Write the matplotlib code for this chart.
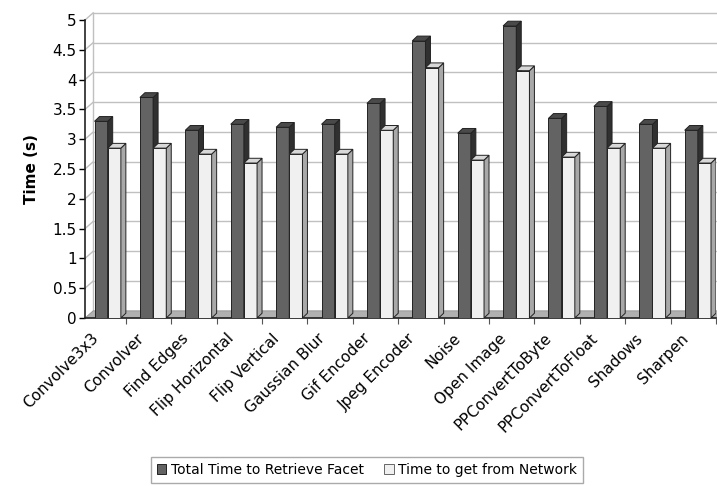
import matplotlib
matplotlib.use('Agg')
import matplotlib.pyplot as plt
from matplotlib.patches import Polygon, Patch
from matplotlib.transforms import ScaledTranslation

# data
categories = ['Convolve3x3', 'Convolver', 'Find Edges', 'Flip Horizontal',
              'Flip Vertical', 'Gaussian Blur', 'Gif Encoder', 'Jpeg Encoder',
              'Noise', 'Open Image', 'PPConvertToByte', 'PPConvertToFloat',
              'Shadows', 'Sharpen']
total_time = [3.3, 3.7, 3.15, 3.25, 3.2, 3.25, 3.6, 4.65,
              3.1, 4.9, 3.35, 3.55, 3.25, 3.15]
network_time = [2.85, 2.85, 2.75, 2.6, 2.75, 2.75, 3.15, 4.2,
                2.65, 4.15, 2.7, 2.85, 2.85, 2.6]
series_names = ['Total Time to Retrieve Facet', 'Time to get from Network']
yticks = [0, 0.5, 1, 1.5, 2, 2.5, 3, 3.5, 4, 4.5, 5]
ytick_labels = ['0', '0.5', '1', '1.5', '2', '2.5', '3', '3.5', '4', '4.5', '5']

plt.rcParams['font.family'] = ['DejaVu Sans']

fig = plt.figure(figsize=(7.17, 4.86), dpi=100)
ax = fig.add_axes([85/717, 168/486, 631/717, 298/486])

x0, x1 = 0.1, 14.0
ax.set_xlim(x0, x1)
ax.set_ylim(0, 5)

# 3D look: wall depth and bar depth in data units
wdx, wdy = 0.18, 0.12
bdx, bdy = 0.11, 0.08
w = 0.29

# floor
ax.add_patch(Polygon([(x0, 0), (x1 + 0.05, 0), (x1 + 0.05 + wdx, wdy), (x0 + wdx, wdy)],
                     closed=True, facecolor='#b0b0b0', edgecolor='#909090',
                     lw=0.6, zorder=1, clip_on=False))
# back wall gridlines
for y in yticks[1:]:
    ax.plot([x0 + wdx, x1 + 0.1], [y + wdy, y + wdy], color='#c0c0c0', lw=1,
            zorder=0.5, clip_on=False)
    ax.plot([x0, x0 + wdx], [y, y + wdy], color='#c0c0c0', lw=1,
            zorder=0.5, clip_on=False)
ax.plot([x0 + wdx, x0 + wdx], [wdy, 5 + wdy], color='#c0c0c0', lw=1,
        zorder=0.5, clip_on=False)


def bar3d(xc, v, front, side, top, z):
    ax.bar(xc, v, width=w, color=front, edgecolor='#222222', lw=0.7, zorder=z)
    r = xc + w / 2
    l = xc - w / 2
    ax.add_patch(Polygon([(r, 0), (r + bdx, bdy), (r + bdx, v + bdy), (r, v)],
                         closed=True, facecolor=side, edgecolor='#222222',
                         lw=0.7, zorder=z))
    ax.add_patch(Polygon([(l, v), (r, v), (r + bdx, v + bdy), (l + bdx, v + bdy)],
                         closed=True, facecolor=top, edgecolor='#222222',
                         lw=0.7, zorder=z, clip_on=False))


for i in range(len(categories)):
    c = i + 0.6
    bar3d(c - w / 2, total_time[i], '#636363', '#303030', '#4a4a4a', 3 + 2 * i)
    bar3d(c + w / 2, network_time[i], '#f0f0f0', '#a8a8a8', '#d8d8d8', 4 + 2 * i)

for s in ['top', 'right']:
    ax.spines[s].set_visible(False)
ax.spines['left'].set_color('#222222')
ax.spines['bottom'].set_color('#222222')
ax.spines['left'].set_linewidth(1.2)
ax.spines['bottom'].set_linewidth(1.2)

ax.set_yticks(yticks)
ax.set_yticklabels(ytick_labels)
ax.tick_params(axis='y', direction='out', length=4, width=1, labelsize=11, pad=2)

ax.set_xticks([i + 0.6 for i in range(len(categories))])
ax.set_xticklabels(categories, rotation=45, ha='right', va='center',
                   rotation_mode='anchor', fontsize=11)
ax.tick_params(axis='x', length=0, pad=13)
shift = ScaledTranslation(-12 / 100, 0, fig.dpi_scale_trans)
for lbl in ax.get_xticklabels():
    lbl.set_transform(lbl.get_transform() + shift)
ax.set_xticks(range(1, len(categories) + 1), minor=True)
ax.tick_params(axis='x', which='minor', direction='out', length=4, width=0.8,
               color='#555555')

ax.set_ylabel('Time (s)', fontsize=11, fontweight='bold', labelpad=10)

handles = [Patch(facecolor='#636363', edgecolor='#222222', lw=0.7),
           Patch(facecolor='#f0f0f0', edgecolor='#666666', lw=0.7)]
leg = fig.legend(handles, series_names, loc='center', ncol=2,
                 bbox_to_anchor=(367/717, 1 - 470/486), fontsize=10,
                 fancybox=False, framealpha=1, edgecolor='#aaaaaa',
                 handlelength=0.7, handleheight=0.7, handletextpad=0.3,
                 columnspacing=1.5, borderpad=0.4)

fig.savefig('out.png', dpi=100)
